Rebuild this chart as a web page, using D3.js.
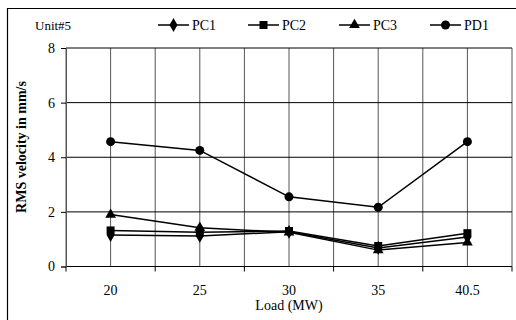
<!DOCTYPE html>
<html lang="en">
<head>
  <meta charset="utf-8">
  <title>RMS velocity vs Load</title>
  <script src="https://cdn.jsdelivr.net/npm/d3@7"></script>
  <style>
    body { margin: 0; background: #fff; }
    text { font-family: "Liberation Serif", "Times New Roman", serif; fill: #000; }
  </style>
</head>
<body>
  <svg width="516" height="320"></svg>
  <script>
    const loads = ["20", "25", "30", "35", "40.5"];
    const pc1 = [1.15, 1.12, 1.27, 0.68, 1.08];
    const pc2 = [1.32, 1.25, 1.30, 0.75, 1.22];
    const pc3 = [1.90, 1.42, 1.25, 0.60, 0.88];
    const pd1 = [4.57, 4.25, 2.55, 2.17, 4.57];
    const yTicks = [0, 2, 4, 6, 8];

    const series = [
      { name: "PC1", values: pc1, symbol: d3.symbolDiamond, size: 55 },
      { name: "PC2", values: pc2, symbol: d3.symbolSquare, size: 64 },
      { name: "PC3", values: pc3, symbol: d3.symbolTriangle, size: 50 },
      { name: "PD1", values: pd1, symbol: d3.symbolCircle, size: 64 }
    ];

    const svg = d3.select("svg");
    const plotL = 66, plotR = 512, plotT = 48, plotB = 266.5;

    const x = d3.scaleBand().domain(loads).range([plotL, plotR]).padding(0);
    const y = d3.scaleLinear().domain([0, 8]).range([plotB, plotT]);
    const cx = d => x(d) + x.bandwidth() / 2;

    // outer frame
    svg.append("path")
      .attr("d", "M7.5,320V8.5H516")
      .attr("fill", "none").attr("stroke", "#000").attr("stroke-width", 1.2);

    // vertical grid: band edges and centres
    const vx = [];
    loads.forEach(d => { vx.push(x(d)); vx.push(cx(d)); });
    vx.push(plotR);
    svg.append("g").selectAll("line").data(vx).join("line")
      .attr("x1", d => d).attr("x2", d => d)
      .attr("y1", plotT).attr("y2", plotB)
      .attr("stroke", "#555").attr("stroke-width", 1);

    // horizontal grid
    svg.append("g").selectAll("line").data(yTicks).join("line")
      .attr("x1", plotL).attr("x2", plotR)
      .attr("y1", d => y(d)).attr("y2", d => y(d))
      .attr("stroke", "#000").attr("stroke-width", 1);

    // y axis
    const yAxis = svg.append("g").attr("transform", `translate(${plotL},0)`)
      .call(d3.axisLeft(y).tickValues(yTicks).tickSize(5).tickPadding(6).tickFormat(d3.format("d")));
    yAxis.select(".domain").attr("stroke", "#555");
    yAxis.selectAll("text").style("font-size", "14px");

    // x axis: ticks at band edges
    const edges = loads.map(d => x(d)).concat([plotR]);
    svg.append("g").selectAll("line").data(edges).join("line")
      .attr("x1", d => d).attr("x2", d => d)
      .attr("y1", plotB).attr("y2", plotB + 5)
      .attr("stroke", "#000");
    svg.append("g").selectAll("text").data(loads).join("text")
      .attr("x", d => cx(d)).attr("y", 295)
      .attr("text-anchor", "middle").style("font-size", "14px")
      .text(d => d);

    svg.append("text").attr("x", (plotL + plotR) / 2).attr("y", 310)
      .attr("text-anchor", "middle").style("font-size", "14px")
      .text("Load (MW)");

    svg.append("text")
      .attr("transform", "translate(26,147) rotate(-90)")
      .attr("text-anchor", "middle")
      .style("font-size", "14px").style("font-weight", "bold")
      .text("RMS velocity in mm/s");

    svg.append("text").attr("x", 35).attr("y", 30)
      .style("font-size", "13px").text("Unit#5");

    // series
    const line = d3.line().x((v, i) => cx(loads[i])).y(v => y(v));
    series.forEach(s => {
      svg.append("path").datum(s.values)
        .attr("d", line).attr("fill", "none")
        .attr("stroke", "#000").attr("stroke-width", 1.5);
      svg.append("g").selectAll("path").data(s.values).join("path")
        .attr("transform", (v, i) => `translate(${cx(loads[i])},${y(v)})`)
        .attr("d", d3.symbol(s.symbol, s.size)).attr("fill", "#000");
    });

    // legend
    const legX = [158, 248, 339, 430];
    const lg = svg.append("g").selectAll("g").data(series).join("g")
      .attr("transform", (s, i) => `translate(${legX[i]},25)`);
    lg.append("line").attr("x1", 0).attr("x2", 31)
      .attr("stroke", "#000").attr("stroke-width", 1.5);
    lg.append("path").attr("transform", "translate(15.5,0)")
      .attr("d", s => d3.symbol(s.symbol, s.size)()).attr("fill", "#000");
    lg.append("text").attr("x", 34).attr("y", 5)
      .style("font-size", "14px").text(s => s.name);
  </script>
</body>
</html>
